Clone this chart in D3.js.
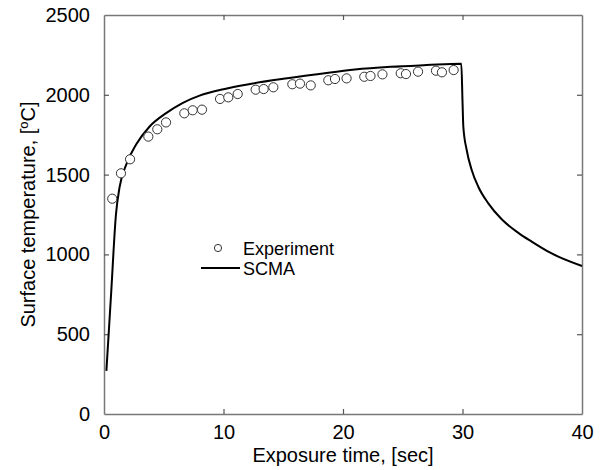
<!DOCTYPE html>
<html>
<head>
<meta charset="utf-8">
<title>Surface temperature vs exposure time</title>
<script src="https://d3js.org/d3.v7.min.js"></script>
<style>
  body { margin: 0; background: #fff; }
  svg { font-family: "Liberation Sans", Arial, sans-serif; }
  .frame path.domain { stroke: #777; stroke-width: 1.5; }
  .frame .tick line { stroke: #555; stroke-width: 1.2; }
  .frame .tick text { font-size: 20px; fill: #000; }
</style>
</head>
<body>
<div id="chart"></div>
<script>
// experiment (circles)
const expTime = [0.69, 1.42, 2.18, 3.71, 4.46, 5.19, 6.72, 7.42, 8.2, 9.71, 10.4, 11.19,
  12.69, 13.36, 14.17, 15.76, 16.4, 17.3, 18.77, 19.33, 20.3, 21.78, 22.3, 23.3,
  24.83, 25.27, 26.28, 27.78, 28.28, 29.26];
const expTemp = [1349, 1508, 1596, 1738, 1784, 1827, 1884, 1903, 1907, 1974, 1984, 2005,
  2032, 2036, 2047, 2066, 2070, 2059, 2091, 2099, 2103, 2113, 2118, 2128,
  2135, 2130, 2145, 2151, 2141, 2155];

// SCMA model (line)
const scmaTime = [0.2, 0.6, 1.0, 1.3, 1.9, 2.7, 3.8, 5.2, 6.6, 8, 10, 12, 15, 18, 21, 24, 27, 29.9,
  30.0, 30.07, 30.35, 30.77, 31.32, 32.16, 33.28, 34.67, 35.79, 37.3, 40];
const scmaTemp = [270, 760, 1250, 1420, 1570, 1690, 1800, 1885, 1950, 1995, 2035, 2065, 2100, 2130, 2158, 2175, 2186, 2195,
  1960, 1800, 1654, 1529, 1424, 1320, 1220, 1135, 1080, 1012, 927];

const xTicks = [0, 10, 20, 30, 40];
const yTicks = [0, 500, 1000, 1500, 2000, 2500];

const width = 603, height = 470;
const margin = {top: 15, right: 21, bottom: 56, left: 104};
const w = width - margin.left - margin.right;
const h = height - margin.top - margin.bottom;

const svg = d3.select("#chart").append("svg")
    .attr("width", width)
    .attr("height", height);
const g = svg.append("g").attr("transform", `translate(${margin.left},${margin.top})`);

const x = d3.scaleLinear().domain([0, 40]).range([0, w]);
const y = d3.scaleLinear().domain([0, 2500]).range([h, 0]);

// axes with inward ticks, all four sides
g.append("g").attr("class", "frame")
    .attr("transform", `translate(0,${h})`)
    .call(d3.axisBottom(x).tickValues(xTicks).tickSize(-5).tickSizeOuter(0).tickPadding(11));
g.append("g").attr("class", "frame")
    .call(d3.axisLeft(y).tickValues(yTicks).tickSize(-5).tickSizeOuter(0).tickPadding(14)
        .tickFormat(d3.format("d")));
g.append("g").attr("class", "frame")
    .call(d3.axisTop(x).tickValues(xTicks).tickSize(-5).tickSizeOuter(0).tickFormat(""));
g.append("g").attr("class", "frame")
    .attr("transform", `translate(${w},0)`)
    .call(d3.axisRight(y).tickValues(yTicks).tickSize(-5).tickSizeOuter(0).tickFormat(""));

// hide ticks sitting on the corners
g.selectAll(".frame .tick").filter(d => d === 0 || d === 40 || d === 2500)
    .select("line").remove();

// SCMA line
const line = d3.line()
    .x(i => x(scmaTime[i]))
    .y(i => y(scmaTemp[i]))
    .curve(d3.curveMonotoneX);
g.append("path")
    .attr("d", line(d3.range(scmaTime.length)))
    .attr("fill", "none")
    .attr("stroke", "#000")
    .attr("stroke-width", 2);

// experiment markers
g.selectAll("circle.exp")
    .data(d3.range(expTime.length))
    .enter().append("circle")
    .attr("class", "exp")
    .attr("cx", i => x(expTime[i]))
    .attr("cy", i => y(expTemp[i]))
    .attr("r", 4.6)
    .attr("fill", "#fff")
    .attr("stroke", "#333")
    .attr("stroke-width", 1);

// legend
const leg = svg.append("g");
leg.append("circle").attr("cx", 218).attr("cy", 248).attr("r", 3.6)
    .attr("fill", "#fff").attr("stroke", "#333").attr("stroke-width", 1);
leg.append("text").attr("x", 243).attr("y", 254.5).attr("font-size", 18).text("Experiment");
leg.append("line").attr("x1", 201).attr("x2", 240).attr("y1", 268).attr("y2", 268)
    .attr("stroke", "#000").attr("stroke-width", 2);
leg.append("text").attr("x", 243).attr("y", 274.5).attr("font-size", 18).text("SCMA");

// axis titles
svg.append("text")
    .attr("x", margin.left + w / 2)
    .attr("y", 462)
    .attr("text-anchor", "middle")
    .attr("font-size", 20)
    .text("Exposure time, [sec]");

const yt = svg.append("text")
    .attr("transform", `translate(35,${margin.top + h / 2}) rotate(-90)`)
    .attr("text-anchor", "middle")
    .attr("font-size", 20);
yt.append("tspan").text("Surface temperature, [");
yt.append("tspan").attr("font-size", 13).attr("dy", -7).text("o");
yt.append("tspan").attr("dy", 7).text("C]");
</script>
</body>
</html>
